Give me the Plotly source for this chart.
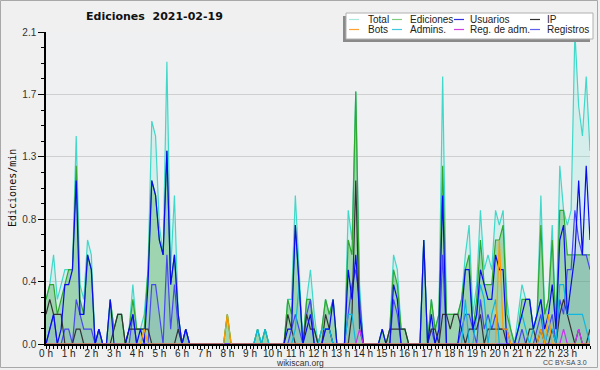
import plotly.graph_objects as go

# 10-minute bins from 00:00 to 24:00 (minutes since midnight)
minutes = list(range(0, 1441, 10))

# Edits per minute (one row per hour, six 10-minute bins)
total = [
    .3, .4, .6, .3, .4, .5,
    .5, .5, 1.4, .4, .3, .7,
    .6, 0, .1, 0, 0, .3,
    .1, .2, .2, 0, .1, .4,
    .1, .1, .2, .5, 1.5, 1.4,
    .8, .6, 1.9, .5, 1.0, .2,
    0, .1, 0, 0, 0, 0,
    0, 0, 0, 0, 0, 0,
    .2, 0, 0, 0, 0, 0,
    0, 0, .1, 0, .1, 0,
    0, 0, 0, 0, .3, .3,
    1.0, .5, 0, .3, .5, .2,
    0, .1, .3, .2, .3, 0,
    0, 0, .9, .7, 1.7, .4,
    0, 0, 0, 0, 0, .1,
    0, .1, .6, .5, .1, .1,
    0, 0, 0, 0, .7, 0,
    .3, .1, .2, 1.8, .2, .2,
    .2, .2, .3, .6, .8, .2,
    .4, .9, .5, .6, .5, .9,
    .8, .9, .3, .1, 0, .2,
    .4, .3, .3, .1, .2, 1.0,
    .2, .3, .8, .1, 1.2, .9,
    .8, .9, 2.1, 1.6, 1.4, 1.8,
    1.3,
]
ediciones = [
    .3, .4, .4, .2, .3, .4,
    .5, .5, 1.2, .3, .2, .6,
    .5, 0, .1, 0, 0, .3,
    .1, .2, .2, 0, .1, .3,
    .1, .1, .1, .5, 1.1, 1.0,
    .7, .6, 1.3, .4, .6, .2,
    0, .1, 0, 0, 0, 0,
    0, 0, 0, 0, 0, 0,
    .2, 0, 0, 0, 0, 0,
    0, 0, .1, 0, .1, 0,
    0, 0, 0, 0, .3, .2,
    .8, .4, 0, .3, .3, .1,
    0, .1, .3, .2, .3, 0,
    0, 0, .7, .6, 1.7, .3,
    0, 0, 0, 0, 0, .1,
    0, .1, .5, .4, .1, .1,
    0, 0, 0, 0, .7, 0,
    .3, .1, .2, 1.2, .2, .2,
    .2, .2, .3, .5, .6, .1,
    .3, .7, .4, .4, .4, .7,
    .7, .8, .2, .1, 0, .1,
    .3, .3, .3, .1, .2, .8,
    .2, .3, .7, .1, .9, .9,
    .6, .6, .6, .6, .6, .6,
    .6,
]
usuarios = [
    0, .1, .2, 0, .1, .4,
    .4, .5, 1.1, .2, .2, .6,
    .5, 0, .1, 0, 0, .3,
    0, 0, 0, 0, .1, .2,
    0, .1, 0, .4, 1.1, 1.0,
    .7, .6, 1.3, .4, .6, .2,
    0, .1, 0, 0, 0, 0,
    0, 0, 0, 0, 0, 0,
    0, 0, 0, 0, 0, 0,
    0, 0, 0, 0, 0, 0,
    0, 0, 0, 0, .1, .1,
    .8, .4, 0, .1, .2, 0,
    0, 0, .1, .1, .3, 0,
    0, 0, .5, .3, .6, .2,
    0, 0, 0, 0, 0, .1,
    0, 0, .4, .3, 0, 0,
    0, 0, 0, 0, .7, 0,
    .2, 0, .1, 1.0, 0, 0,
    0, 0, .2, .5, .5, .1,
    .2, .5, .4, .3, .3, .6,
    .5, .5, 0, 0, 0, .1,
    .2, .3, .3, .1, .2, .3,
    .1, .2, .4, .1, .7, .8,
    .2, .4, .6, 1.1, .6, 1.2,
    .7,
]
ip = [
    .2, .3, .2, .2, .2, 0,
    0, 0, .1, .1, 0, 0,
    0, 0, 0, 0, 0, 0,
    .1, .2, .2, 0, .1, .1,
    .1, .1, .1, .1, 0, 0,
    0, 0, 0, 0, 0, .1,
    0, 0, 0, 0, 0, 0,
    0, 0, 0, 0, 0, 0,
    0, 0, 0, 0, 0, 0,
    0, 0, 0, 0, 0, 0,
    0, 0, 0, 0, .2, .1,
    0, 0, 0, .2, .1, .1,
    0, 0, .2, .1, 0, 0,
    0, 0, 0, .2, 1.1, .1,
    0, 0, 0, 0, 0, 0,
    0, .1, .1, .1, .1, .1,
    0, 0, 0, 0, 0, 0,
    .1, .1, 0, .2, .2, .1,
    .2, .2, .1, 0, .1, .1,
    .1, .2, 0, .1, .1, .1,
    .1, .1, 0, 0, 0, 0,
    0, 0, .1, .1, 0, .1,
    0, 0, .1, 0, .2, .3,
    .2, .1, 0, .1, 0, 0,
    .1,
]
bots = [0] * 145
for i, v in [(26, .1), (48, .2), (120, .7), (121, .1), (122, .1), (131, .1), (133, .2)]:
    bots[i] = v
admins = [0] * 145
for i, v in [(56, .1), (58, .1), (66, .1), (67, .4), (73, .1), (74, .1), (75, .1),
             (80, .2), (81, .2), (111, .3), (114, .2), (115, .4), (116, .3), (118, .2),
             (119, .3), (125, .1), (126, .2), (127, .1), (129, .1), (130, .2), (131, .3),
             (133, .1), (134, .1), (136, .4), (137, .4), (138, .2), (139, .2), (140, .2),
             (141, .2), (142, .2), (143, .1)]:
    admins[i] = v
reg_adm = [0] * 145
for i, v in [(83, .1), (137, .1), (141, .1)]:
    reg_adm[i] = v
registros = [
    0, .1, .2, 0, 0, .1,
    .1, 0, .3, .2, .1, .1,
    .1, 0, .1, 0, 0, 0,
    0, 0, 0, 0, 0, .2,
    0, 0, 0, 0, .4, .4,
    .2, 0, .6, .1, .4, .1,
    0, .1, 0, 0, 0, 0,
    0, 0, 0, 0, 0, 0,
    0, 0, 0, 0, 0, 0,
    0, 0, 0, 0, 0, 0,
    0, 0, 0, 0, 0, .1,
    .2, .1, 0, .2, .3, 0,
    0, 0, .1, .1, 0, 0,
    0, 0, .2, .4, .5, .3,
    0, 0, 0, 0, 0, 0,
    0, 0, .3, .2, 0, 0,
    0, 0, 0, 0, 0, 0,
    .1, 0, 0, .6, 0, 0,
    0, 0, .1, .2, .2, .1,
    0, .3, .1, .2, .1, .2,
    .1, .1, .1, 0, 0, 0,
    .1, 0, 0, 0, .1, .2,
    0, .1, .2, 0, .3, .2,
    .5, .5, .9, .7, .6, .6,
    .5,
]

hour_ticks = list(range(24))
hour_labels = [f"{h} h" for h in hour_ticks]
y_ticks = [0, 0.42, 0.84, 1.26, 1.68, 2.1]
y_labels = ["0.0", "0.4", "0.8", "1.3", "1.7", "2.1"]

hours = [m / 60 for m in minutes]

FC = "Liberation Sans, Arial, sans-serif"

series = [
    ("Total", total, "#40d8c8", "rgba(64,224,208,0.14)"),
    ("Ediciones", ediciones, "#30a830", "rgba(60,170,70,0.36)"),
    ("Registros", registros, "#4848f0", "rgba(70,70,230,0.10)"),
    ("IP", ip, "#333333", None),
    ("Admins.", admins, "#10b8e0", None),
    ("Usuarios", usuarios, "#0a0af0", None),
    ("Reg. de adm.", reg_adm, "#cc33ee", None),
    ("Bots", bots, "#ff9a00", None),
]

fig = go.Figure()
for name, vals, col, fillc in series:
    fig.add_trace(go.Scatter(
        x=hours, y=vals, name=name, mode="lines",
        line=dict(color=col, width=1.2),
        fill="tozeroy" if fillc else None,
        fillcolor=fillc, showlegend=False, hoverinfo="skip",
    ))

L, R, T, B = 46, 10, 32, 26
PW, PH = 600 - L - R, 370 - T - B


def px(x):
    return (x - L) / PW


def py(y):
    return (370 - B - y) / PH


shapes = [
    # outer border
    dict(type="rect", xref="paper", yref="paper", x0=px(0.5), x1=px(597.5),
         y0=py(367.5), y1=py(0.5), line=dict(color="#a8a8a8", width=1), layer="below"),
    # legend shadow and box
    dict(type="rect", xref="paper", yref="paper", x0=px(343), x1=px(590),
         y0=py(42), y1=py(16), fillcolor="#8a8a8a", line=dict(width=0)),
    dict(type="rect", xref="paper", yref="paper", x0=px(346), x1=px(593),
         y0=py(39), y1=py(13), fillcolor="#ffffff", line=dict(color="#b0b0b0", width=1)),
]
annotations = [
    dict(text="<b>Ediciones  2021-02-19</b>", xref="paper", yref="paper", x=px(154), y=py(17),
         showarrow=False, font=dict(family="DejaVu Sans, sans-serif", size=11, color="#111"),
         xanchor="center", yanchor="middle"),
    dict(text="Ediciones/min", xref="paper", yref="paper", x=px(12), y=py(188),
         showarrow=False, textangle=-90,
         font=dict(family="DejaVu Sans Mono, monospace", size=10, color="#111"),
         xanchor="center", yanchor="middle"),
    dict(text="wikiscan.org", xref="paper", yref="paper", x=px(300), y=py(362.5),
         showarrow=False, font=dict(family=FC, size=8.5, color="#333"),
         xanchor="center", yanchor="middle"),
    dict(text="CC BY-SA 3.0", xref="paper", yref="paper", x=px(589), y=py(362.5),
         showarrow=False, font=dict(family=FC, size=7, color="#444"),
         xanchor="right", yanchor="middle"),
]

legend_items = [
    ("Total", "#a8e8e0", 349, 366, 19.5), ("Ediciones", "#80cc80", 392, 408, 19.5),
    ("Usuarios", "#3030e0", 454, 468, 19.5), ("IP", "#333333", 530, 545, 19.5),
    ("Bots", "#ffa030", 349, 366, 29.5), ("Admins.", "#40c8e0", 392, 408, 29.5),
    ("Reg. de adm.", "#d040e0", 454, 468, 29.5), ("Registros", "#6060f0", 530, 545, 29.5),
]
for name, col, lx, tx, ly in legend_items:
    shapes.append(dict(type="line", xref="paper", yref="paper", x0=px(lx), x1=px(lx + 10),
                       y0=py(ly), y1=py(ly), line=dict(color=col, width=1.2)))
    annotations.append(dict(text=name, xref="paper", yref="paper", x=px(tx), y=py(ly),
                            showarrow=False, xanchor="left", yanchor="middle",
                            font=dict(family=FC, size=10, color="#222")))

fig.update_layout(
    width=600, height=370, autosize=False,
    margin=dict(l=L, r=R, t=T, b=B, pad=0),
    paper_bgcolor="#f0f0f0", plot_bgcolor="#eef0f2",
    showlegend=False, shapes=shapes, annotations=annotations,
    xaxis=dict(range=[0, 24], tickvals=hour_ticks, ticktext=hour_labels,
               automargin=False,
               showgrid=False, zeroline=False, showline=True, linecolor="#000",
               linewidth=2, ticks="outside", ticklen=3, tickcolor="#000", tickwidth=1,
               tickfont=dict(family=FC, size=10, color="#222"), layer="above traces",
               ticklabelstandoff=-4,
               minor=dict(dtick=1 / 6, tick0=0, ticks="outside", ticklen=3,
                          tickcolor="#000", tickwidth=1, showgrid=False),
               fixedrange=True),
    yaxis=dict(range=[0, 2.1], tickvals=y_ticks, ticktext=y_labels,
               automargin=False,
               showgrid=True, gridcolor="#cfcfcf", gridwidth=1, zeroline=False,
               showline=True, linecolor="#000", linewidth=1.5, layer="above traces",
               ticks="outside", ticklen=6, tickcolor="#000", tickwidth=1,
               tickfont=dict(family=FC, size=10, color="#333"),
               minor=dict(tickvals=[0.105 * k for k in range(21)], ticks="outside",
                          ticklen=3, tickcolor="#000", tickwidth=1, showgrid=False),
               fixedrange=True),
)

fig.write_html("out.html", config={"displayModeBar": False},
               post_script="document.body.style.margin='0';")
